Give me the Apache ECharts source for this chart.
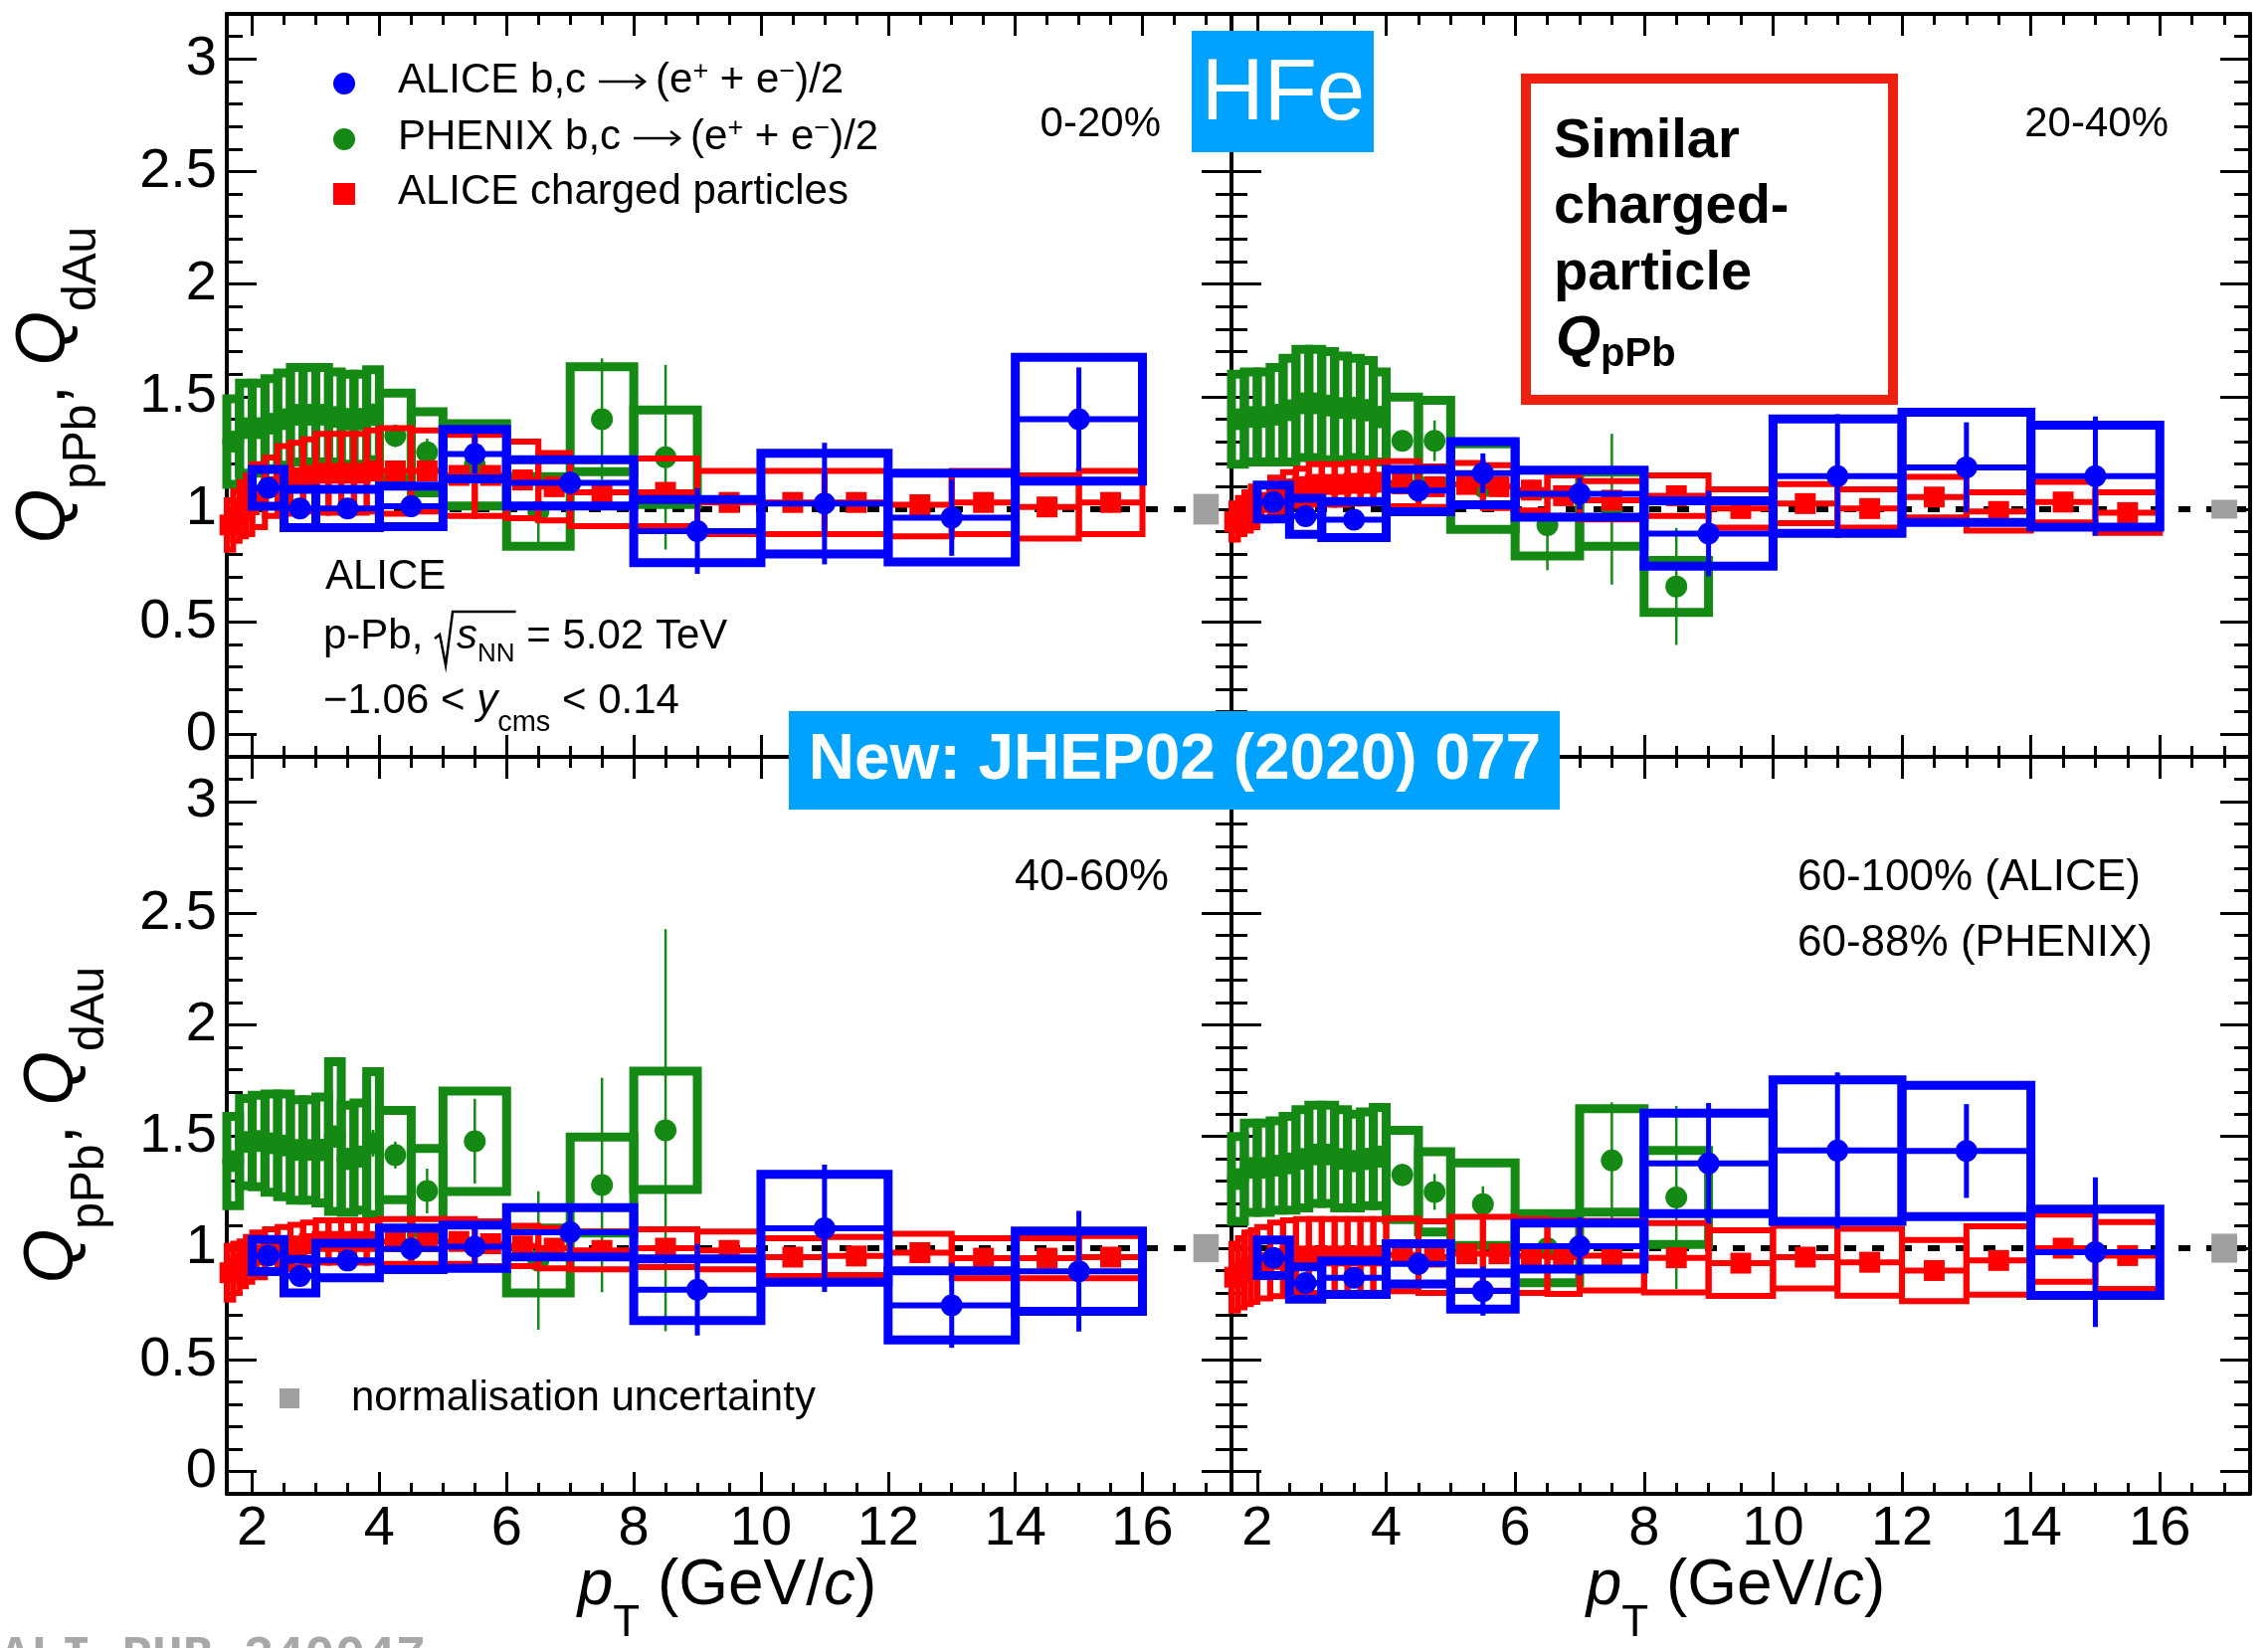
<!DOCTYPE html>
<html>
<head>
<meta charset="utf-8">
<script src="https://cdn.jsdelivr.net/npm/echarts@6/dist/echarts.min.js"></script>
<style>
html, body { margin: 0; padding: 0; background: #fff; }
#chart { width: 2280px; height: 1657px; }
</style>
</head>
<body>
<div id="chart"></div>
<script>
// ---------- pT binning (GeV/c) ----------
// ALICE heavy-flavour decay electrons
const heX    = [2.25, 2.75, 3.5, 4.5, 5.5, 7, 9, 11, 13, 15];
const heHalfW = [0.25, 0.25, 0.5, 0.5, 0.5, 1, 1, 1, 1, 1];
// PHENIX heavy-flavour decay electrons
const phxX    = [1.7, 1.9, 2.1, 2.3, 2.5, 2.7, 2.9, 3.1, 3.3, 3.5, 3.7, 3.9, 4.25, 4.75, 5.5, 6.5, 7.5, 8.5];
const phxHalfW = [0.1, 0.1, 0.1, 0.1, 0.1, 0.1, 0.1, 0.1, 0.1, 0.1, 0.1, 0.1, 0.25, 0.25, 0.5, 0.5, 0.5, 0.5];
// ALICE charged particles
const chX    = [1.65, 1.75, 1.85, 1.95, 2.1, 2.3, 2.5, 2.7, 2.9, 3.1, 3.3, 3.5, 3.7, 3.9, 4.25, 4.75, 5.25, 5.75, 6.25, 6.75, 7.5, 8.5, 9.5, 10.5, 11.5, 12.5, 13.5, 14.5, 15.5];
const chHalfW = [0.05, 0.05, 0.05, 0.05, 0.1, 0.1, 0.1, 0.1, 0.1, 0.1, 0.1, 0.1, 0.1, 0.1, 0.25, 0.25, 0.25, 0.25, 0.25, 0.25, 0.5, 0.5, 0.5, 0.5, 0.5, 0.5, 0.5, 0.5, 0.5];

// ---------- 0-20% ----------
const heQ_0_20    = [1.095, 1.003, 1.003, 1.013, 1.245, 1.117, 0.903, 1.025, 0.963, 1.40];
const heSys_0_20  = [0.082, 0.085, 0.085, 0.09, 0.11, 0.103, 0.14, 0.224, 0.197, 0.275];
const heStat_0_20 = [0.02, 0.02, 0.025, 0.045, 0.088, 0.05, 0.19, 0.27, 0.17, 0.23];
const phxQ_0_20    = [1.30, 1.36, 1.36, 1.38, 1.40, 1.42, 1.42, 1.42, 1.41, 1.40, 1.40, 1.42, 1.326, 1.253, 1.197, 0.99, 1.40, 1.231];
const phxSys_0_20  = [0.19, 0.2, 0.2, 0.2, 0.205, 0.21, 0.21, 0.21, 0.2, 0.2, 0.2, 0.2, 0.19, 0.18, 0.183, 0.155, 0.233, 0.21];
const phxStat_0_20 = [0.03, 0.03, 0.03, 0.03, 0.03, 0.04, 0.04, 0.04, 0.04, 0.05, 0.05, 0.05, 0.05, 0.06, 0.08, 0.15, 0.27, 0.41];
const chQ_0_20   = [0.93, 0.97, 1.0, 1.02, 1.06, 1.10, 1.13, 1.14, 1.15, 1.16, 1.16, 1.16, 1.16, 1.17, 1.17, 1.17, 1.15, 1.15, 1.13, 1.10, 1.075, 1.075, 1.03, 1.03, 1.03, 1.02, 1.03, 1.01, 1.03];
const chSys_0_20 = [0.11, 0.11, 0.12, 0.13, 0.14, 0.13, 0.15, 0.155, 0.16, 0.175, 0.175, 0.175, 0.175, 0.18, 0.19, 0.18, 0.18, 0.18, 0.17, 0.15, 0.15, 0.15, 0.14, 0.14, 0.14, 0.14, 0.14, 0.14, 0.14];

// ---------- 20-40% ----------
const heQ_20_40    = [1.032, 0.969, 0.954, 1.083, 1.16, 1.069, 0.892, 1.147, 1.186, 1.147];
const heSys_20_40  = [0.075, 0.08, 0.08, 0.094, 0.14, 0.104, 0.145, 0.254, 0.245, 0.226];
const heStat_20_40 = [0.02, 0.02, 0.025, 0.03, 0.088, 0.07, 0.19, 0.275, 0.2, 0.265];
const phxQ_20_40    = [1.40, 1.41, 1.41, 1.42, 1.44, 1.47, 1.47, 1.46, 1.45, 1.45, 1.44, 1.41, 1.304, 1.304, 1.10, 0.929, 1.0, 0.657];
const phxSys_20_40  = [0.2, 0.2, 0.2, 0.21, 0.23, 0.24, 0.24, 0.24, 0.23, 0.22, 0.22, 0.2, 0.194, 0.18, 0.19, 0.137, 0.165, 0.115];
const phxStat_20_40 = [0.03, 0.03, 0.03, 0.03, 0.03, 0.04, 0.04, 0.04, 0.04, 0.05, 0.05, 0.05, 0.045, 0.09, 0.08, 0.2, 0.335, 0.26];
const chQ_20_40   = [0.945, 0.97, 0.99, 1.01, 1.03, 1.06, 1.09, 1.10, 1.11, 1.11, 1.11, 1.115, 1.115, 1.12, 1.113, 1.10, 1.11, 1.10, 1.085, 1.06, 1.04, 1.06, 1.003, 1.025, 1.003, 1.054, 0.99, 1.032, 0.985];
const chSys_20_40 = [0.08, 0.08, 0.085, 0.09, 0.08, 0.08, 0.075, 0.08, 0.09, 0.09, 0.09, 0.09, 0.09, 0.09, 0.10, 0.09, 0.095, 0.095, 0.09, 0.09, 0.085, 0.09, 0.085, 0.087, 0.085, 0.09, 0.085, 0.09, 0.09];

// ---------- 40-60% ----------
const heQ_40_60    = [0.967, 0.875, 0.945, 0.997, 1.007, 1.071, 0.814, 1.089, 0.744, 0.897];
const heSys_40_60  = [0.072, 0.075, 0.077, 0.093, 0.097, 0.11, 0.138, 0.242, 0.155, 0.18];
const heStat_40_60 = [0.02, 0.025, 0.03, 0.05, 0.1, 0.1, 0.205, 0.285, 0.19, 0.27];
const phxQ_40_60    = [1.39, 1.475, 1.48, 1.47, 1.46, 1.44, 1.44, 1.44, 1.50, 1.40, 1.41, 1.47, 1.417, 1.256, 1.479, 0.945, 1.283, 1.528];
const phxSys_40_60  = [0.2, 0.195, 0.205, 0.22, 0.23, 0.225, 0.225, 0.237, 0.335, 0.24, 0.24, 0.32, 0.2, 0.19, 0.225, 0.145, 0.215, 0.265];
const phxStat_40_60 = [0.03, 0.03, 0.03, 0.03, 0.04, 0.04, 0.04, 0.05, 0.05, 0.05, 0.05, 0.06, 0.06, 0.1, 0.19, 0.31, 0.48, 0.9];
const chQ_40_60   = [0.89, 0.91, 0.93, 0.95, 0.97, 0.99, 1.0, 1.01, 1.02, 1.03, 1.03, 1.03, 1.03, 1.03, 1.03, 1.03, 1.03, 1.02, 1.01, 1.0, 0.99, 1.0, 0.99, 0.96, 0.965, 0.98, 0.955, 0.955, 0.96];
const chSys_40_60 = [0.12, 0.11, 0.1, 0.1, 0.1, 0.095, 0.095, 0.095, 0.095, 0.095, 0.095, 0.095, 0.095, 0.095, 0.1, 0.1, 0.1, 0.1, 0.09, 0.09, 0.085, 0.085, 0.085, 0.085, 0.085, 0.085, 0.09, 0.09, 0.095];

// ---------- 60-100% (ALICE), 60-88% (PHENIX) ----------
const heQ_60_100    = [0.957, 0.844, 0.868, 0.93, 0.808, 1.009, 1.38, 1.437, 1.435, 0.982];
const heSys_60_100  = [0.08, 0.072, 0.075, 0.09, 0.081, 0.103, 0.225, 0.317, 0.294, 0.193];
const heStat_60_100 = [0.02, 0.025, 0.03, 0.05, 0.11, 0.13, 0.27, 0.35, 0.21, 0.335];
const phxQ_60_88    = [1.31, 1.36, 1.36, 1.37, 1.38, 1.40, 1.42, 1.42, 1.40, 1.39, 1.40, 1.41, 1.328, 1.252, 1.197, 1.0, 1.393, 1.227];
const phxSys_60_88  = [0.19, 0.2, 0.2, 0.2, 0.21, 0.22, 0.22, 0.22, 0.22, 0.21, 0.21, 0.22, 0.2, 0.18, 0.185, 0.155, 0.232, 0.21];
const phxStat_60_88 = [0.03, 0.03, 0.03, 0.03, 0.03, 0.04, 0.04, 0.04, 0.04, 0.05, 0.05, 0.05, 0.05, 0.08, 0.08, 0.16, 0.26, 0.41];
const chQ_60_100   = [0.87, 0.89, 0.91, 0.92, 0.935, 0.95, 0.96, 0.965, 0.965, 0.965, 0.965, 0.965, 0.965, 0.965, 0.97, 0.96, 0.975, 0.975, 0.965, 0.96, 0.967, 0.957, 0.933, 0.96, 0.937, 0.90, 0.945, 1.0, 0.967];
const chSys_60_100 = [0.15, 0.155, 0.16, 0.16, 0.16, 0.165, 0.165, 0.165, 0.165, 0.165, 0.165, 0.165, 0.165, 0.165, 0.163, 0.16, 0.165, 0.165, 0.165, 0.165, 0.156, 0.155, 0.147, 0.14, 0.15, 0.137, 0.153, 0.15, 0.15];

// normalisation uncertainty per panel (drawn at pT = 17)
const normUnc = [0.068, 0.042, 0.063, 0.065];
const normX = 17, normHalfW = 0.2;

// axis ranges and the unity reference line
const X_RANGE = [1.6, 17.4];
const Y_RANGE = [-0.1, 3.2];
const unityY = 1;

// ---------- styling ----------
const FONT = '"Liberation Sans", Arial, Helvetica, sans-serif';
const BLUE = '#0000FF', GREEN = '#148A14', RED = '#FF0000', GREY = '#A0A0A0', CYAN = '#00A2FF';

const panels = [
  { he: [heQ_0_20, heSys_0_20, heStat_0_20], phx: [phxQ_0_20, phxSys_0_20, phxStat_0_20], ch: [chQ_0_20, chSys_0_20] },
  { he: [heQ_20_40, heSys_20_40, heStat_20_40], phx: [phxQ_20_40, phxSys_20_40, phxStat_20_40], ch: [chQ_20_40, chSys_20_40] },
  { he: [heQ_40_60, heSys_40_60, heStat_40_60], phx: [phxQ_40_60, phxSys_40_60, phxStat_40_60], ch: [chQ_40_60, chSys_40_60] },
  { he: [heQ_60_100, heSys_60_100, heStat_60_100], phx: [phxQ_60_88, phxSys_60_88, phxStat_60_88], ch: [chQ_60_100, chSys_60_100] }
];

const grids = [
  { left: 228, top: 14, width: 1010, height: 747 },
  { left: 1238, top: 14, width: 1024, height: 747 },
  { left: 228, top: 761, width: 1010, height: 741 },
  { left: 1238, top: 761, width: 1024, height: 741 }
].map(g => Object.assign(g, { containLabel: false, outerBoundsMode: 'none' }));

function xAxisOf(gi, pos, labels) {
  return {
    type: 'value', gridIndex: gi, position: pos, min: X_RANGE[0], max: X_RANGE[1], splitNumber: 8,
    axisLine: { show: true, onZero: false, lineStyle: { color: '#000', width: 4 } },
    axisTick: { show: true, inside: true, length: 22, lineStyle: { color: '#000', width: 3 } },
    minorTick: { show: true, splitNumber: 4, length: 11, lineStyle: { color: '#000', width: 3 } },
    splitLine: { show: false }, minorSplitLine: { show: false },
    axisLabel: { show: labels, showMinLabel: false, showMaxLabel: false, margin: 8, color: '#000', fontSize: 56, fontFamily: FONT }
  };
}
function yAxisOf(gi, pos, labels) {
  return {
    type: 'value', gridIndex: gi, position: pos, min: Y_RANGE[0], max: Y_RANGE[1], splitNumber: 7,
    axisLine: { show: true, onZero: false, lineStyle: { color: '#000', width: 4 } },
    axisTick: { show: true, inside: true, length: 30, lineStyle: { color: '#000', width: 3 } },
    minorTick: { show: true, splitNumber: 5, length: 16, lineStyle: { color: '#000', width: 3 } },
    splitLine: { show: false }, minorSplitLine: { show: false },
    axisLabel: { show: labels, showMinLabel: false, showMaxLabel: false, margin: 10, color: '#000', fontSize: 56, fontFamily: FONT }
  };
}

const xAxes = [], yAxes = [];
grids.forEach((g, i) => {
  xAxes.push(xAxisOf(i, 'bottom', i >= 2));
  xAxes.push(xAxisOf(i, 'top', false));
  yAxes.push(yAxisOf(i, 'left', i % 2 === 0));
  yAxes.push(yAxisOf(i, 'right', false));
});

// systematic-uncertainty boxes: [x, halfWidth, value, sys]
function boxSeries(gi, x, hw, v, s, color, lw, z, fill) {
  return {
    type: 'custom', xAxisIndex: 2 * gi, yAxisIndex: 2 * gi, z, clip: false, silent: true, animation: false,
    encode: { x: 0, y: 2 },
    data: x.map((xi, k) => [xi, hw[k], v[k], s[k]]),
    renderItem: (params, api) => {
      const c = api.value(0), h = api.value(1), val = api.value(2), e = api.value(3);
      const a = api.coord([c - h, val + e]);
      const b = api.coord([c + h, val - e]);
      return {
        type: 'rect',
        shape: { x: a[0], y: a[1], width: b[0] - a[0], height: b[1] - a[1] },
        style: fill ? { fill: color, stroke: null } : { fill: 'none', stroke: color, lineWidth: lw }
      };
    }
  };
}

// statistical error bars (vertical) and bin-width bars (horizontal)
function errSeries(gi, x, hw, v, stat, color, vWidth, hWidth, z) {
  return {
    type: 'custom', xAxisIndex: 2 * gi, yAxisIndex: 2 * gi, z, clip: false, silent: true, animation: false,
    encode: { x: 0, y: 2 },
    data: x.map((xi, k) => [xi, hw[k], v[k], stat ? stat[k] : 0]),
    renderItem: (params, api) => {
      const c = api.value(0), h = api.value(1), val = api.value(2), e = api.value(3);
      const children = [];
      if (hWidth) {
        const l = api.coord([c - h, val]), r = api.coord([c + h, val]);
        children.push({ type: 'line', shape: { x1: l[0], y1: l[1], x2: r[0], y2: r[1] }, style: { stroke: color, lineWidth: hWidth } });
      }
      if (e > 0 && vWidth) {
        const t = api.coord([c, val + e]), b = api.coord([c, val - e]);
        children.push({ type: 'line', shape: { x1: t[0], y1: t[1], x2: b[0], y2: b[1] }, style: { stroke: color, lineWidth: vWidth } });
      }
      return { type: 'group', children };
    }
  };
}

function markerSeries(gi, x, v, color, symbol, size, z) {
  return {
    type: 'scatter', xAxisIndex: 2 * gi, yAxisIndex: 2 * gi, z, clip: false, silent: true, animation: false,
    symbol, symbolSize: size, itemStyle: { color, opacity: 1 },
    data: x.map((xi, k) => [xi, v[k]])
  };
}

const series = [];
panels.forEach((p, gi) => {
  // unity reference
  series.push({
    type: 'line', xAxisIndex: 2 * gi, yAxisIndex: 2 * gi, z: 1, silent: true, animation: false,
    symbol: 'none', lineStyle: { color: '#000', width: 6, type: [12, 16] },
    data: [[X_RANGE[0], unityY], [X_RANGE[1], unityY]]
  });
  // PHENIX
  series.push(boxSeries(gi, phxX, phxHalfW, p.phx[0], p.phx[1], GREEN, 9, 2));
  series.push(errSeries(gi, phxX, phxHalfW, p.phx[0], p.phx[2], GREEN, 2.5, 0, 3));
  series.push(markerSeries(gi, phxX, p.phx[0], GREEN, 'circle', 22, 4));
  // ALICE charged particles
  series.push(boxSeries(gi, chX, chHalfW, p.ch[0], p.ch[1], RED, 6, 5));
  series.push(errSeries(gi, chX, chHalfW, p.ch[0], null, RED, 0, 6, 6));
  series.push(markerSeries(gi, chX, p.ch[0], RED, 'rect', 21, 7));
  // ALICE HFe
  series.push(boxSeries(gi, heX, heHalfW, p.he[0], p.he[1], BLUE, 9, 8));
  series.push(errSeries(gi, heX, heHalfW, p.he[0], p.he[2], BLUE, 5, 6, 9));
  series.push(markerSeries(gi, heX, p.he[0], BLUE, 'circle', 22, 10));
  // normalisation box
  series.push(boxSeries(gi, [normX], [normHalfW], [unityY], [normUnc[gi]], GREY, 0, 11, true));
});

// ---------- text helpers ----------
const mctx = document.createElement('canvas').getContext('2d');
function fontOf(p) { return (p.i ? 'italic ' : '') + (p.b ? 'bold ' : '') + p.s + 'px ' + FONT; }
function widthOf(p) { mctx.font = fontOf(p); return mctx.measureText(p.t).width; }
// lays out text pieces on a common baseline; dy shifts a piece's own baseline
function run(parts, x, base, align, color) {
  const ws = parts.map(p => (p.w != null ? p.w : widthOf(p)));
  const total = ws.reduce((a, b) => a + b, 0);
  let cx = align === 'center' ? x - total / 2 : align === 'right' ? x - total : x;
  const els = [], starts = [];
  parts.forEach((p, k) => {
    starts.push(cx);
    if (p.t) {
      els.push({
        type: 'text', x: cx, y: base + (p.dy || 0) - 0.35 * p.s, silent: true, z: 100,
        style: { text: p.t, font: fontOf(p), fill: p.c || color || '#000', align: 'left', verticalAlign: 'middle' }
      });
    }
    cx += ws[k];
  });
  starts.push(cx);
  return { els, starts, total };
}

const graphics = [];
function add(r) { r.els.forEach(e => graphics.push(e)); return r; }

// legend
graphics.push({ type: 'circle', shape: { cx: 346, cy: 84, r: 11 }, style: { fill: BLUE }, z: 100, silent: true });
graphics.push({ type: 'circle', shape: { cx: 346, cy: 140, r: 11 }, style: { fill: GREEN }, z: 100, silent: true });
graphics.push({ type: 'rect', shape: { x: 335, y: 184, width: 22, height: 22 }, style: { fill: RED }, z: 100, silent: true });
function eeEntry(head, base) {
  const r = add(run([
    { t: head, s: 42 }, { t: '', s: 42, w: 70 }, { t: '(e', s: 42 }, { t: '+', s: 27, dy: -14 },
    { t: ' + e', s: 42 }, { t: '\u2212', s: 27, dy: -14 }, { t: ')/2', s: 42 }
  ], 400, base, 'left'));
  // reaction arrow
  const ax0 = r.starts[1] + 13, ax1 = r.starts[2] - 11, ay = base - 14;
  graphics.push({ type: 'line', shape: { x1: ax0, y1: ay, x2: ax1, y2: ay }, style: { stroke: '#000', lineWidth: 2.5 }, z: 100, silent: true });
  graphics.push({ type: 'polyline', shape: { points: [[ax1 - 9, ay - 7], [ax1, ay], [ax1 - 9, ay + 7]] }, style: { stroke: '#000', lineWidth: 2.5, fill: null }, z: 100, silent: true });
}
eeEntry('ALICE b,c', 96);
eeEntry('PHENIX b,c', 153);
add(run([{ t: 'ALICE charged particles', s: 42 }], 400, 208, 'left'));

// centrality labels
add(run([{ t: '0-20%', s: 42 }], 1167, 140, 'right'));
add(run([{ t: '20-40%', s: 42 }], 2180, 140, 'right'));
add(run([{ t: '40-60%', s: 45 }], 1175, 898, 'right'));
add(run([{ t: '60-100% (ALICE)', s: 44 }], 1807, 898, 'left'));
add(run([{ t: '60-88% (PHENIX)', s: 44 }], 1807, 964, 'left'));

// system label
add(run([{ t: 'ALICE', s: 42 }], 327, 595, 'left'));
const sq = add(run([
  { t: 'p-Pb, ', s: 42 }, { t: '', s: 42, w: 22 }, { t: 's', s: 42, i: 1 }, { t: 'NN', s: 26, dy: 12 }, { t: ' = 5.02 TeV', s: 42 }
], 325, 655, 'left'));
{
  const rx = sq.starts[1], base = 655, endX = sq.starts[4] + 1;
  graphics.push({
    type: 'polyline', silent: true, z: 100,
    shape: { points: [[rx, base - 13], [rx + 5, base - 17], [rx + 11, base + 14], [rx + 18, base - 40], [endX, base - 40]] },
    style: { stroke: '#000', lineWidth: 2.5, fill: null }
  });
}
add(run([{ t: '\u22121.06 < ', s: 42 }, { t: 'y', s: 42, i: 1 }, { t: 'cms', s: 29, dy: 17 }, { t: ' < 0.14', s: 42 }], 325, 720, 'left'));

// normalisation legend
graphics.push({ type: 'rect', shape: { x: 281, y: 1396, width: 20, height: 20 }, style: { fill: GREY }, z: 100, silent: true });
add(run([{ t: 'normalisation uncertainty', s: 42 }], 353, 1421, 'left'));

// HFe tag
graphics.push({ type: 'rect', shape: { x: 1198, y: 31, width: 183, height: 122 }, style: { fill: CYAN }, z: 100, silent: true });
add(run([{ t: 'HFe', s: 87, c: '#fff' }], 1290, 126, 'center'));

// comparison note
graphics.push({ type: 'rect', shape: { x: 1534, y: 79, width: 369, height: 323 }, style: { fill: 'none', stroke: '#EE2010', lineWidth: 10 }, z: 100, silent: true });
add(run([{ t: 'Similar', s: 56, b: 1 }], 1562, 162, 'left'));
add(run([{ t: 'charged-', s: 56, b: 1 }], 1562, 228, 'left'));
add(run([{ t: 'particle', s: 56, b: 1 }], 1562, 295, 'left'));
add(run([{ t: 'Q', s: 58, b: 1, i: 1 }, { t: 'pPb', s: 40, b: 1, dy: 9 }], 1564, 362, 'left'));

// publication tag
graphics.push({ type: 'rect', shape: { x: 793, y: 715, width: 775, height: 99 }, style: { fill: CYAN }, z: 100, silent: true });
add(run([{ t: 'New: JHEP02 (2020) 077', s: 64, b: 1, c: '#fff' }], 1181, 788, 'center'));

// x-axis titles
const ptTitle = () => [{ t: 'p', s: 64, i: 1 }, { t: 'T', s: 44, dy: 30 }, { t: ' (GeV/', s: 64 }, { t: 'c', s: 64, i: 1 }, { t: ')', s: 64 }];
add(run(ptTitle(), 731, 1618, 'center'));
add(run(ptTitle(), 1745, 1618, 'center'));

// y-axis titles (rotated)
const qTitle = () => [{ t: 'Q', s: 70, i: 1 }, { t: 'pPb', s: 48, dy: 30 }, { t: ',', s: 70 }, { t: ' ', s: 70 }, { t: 'Q', s: 70, i: 1 }, { t: 'dAu', s: 48, dy: 30 }];
[[70, 387], [78, 1131]].forEach(([bx, cy]) => {
  const r = run(qTitle(), 0, 0, 'center');
  graphics.push({ type: 'group', x: bx, y: cy, rotation: Math.PI / 2, children: r.els, silent: true, z: 100 });
});

// figure id
graphics.push({
  type: 'text', x: 0, y: 1667, silent: true, z: 100,
  style: { text: 'ALI-PUB-340047', font: 'bold 51px "Liberation Mono", "DejaVu Sans Mono", monospace', fill: '#A8A8A8', align: 'left', verticalAlign: 'middle' }
});

const chart = echarts.init(document.getElementById('chart'), null, { renderer: 'canvas', width: 2280, height: 1657 });
chart.setOption({
  animation: false,
  backgroundColor: '#fff',
  textStyle: { fontFamily: FONT },
  grid: grids,
  xAxis: xAxes,
  yAxis: yAxes,
  series,
  graphic: { elements: graphics }
});
</script>
</body>
</html>
